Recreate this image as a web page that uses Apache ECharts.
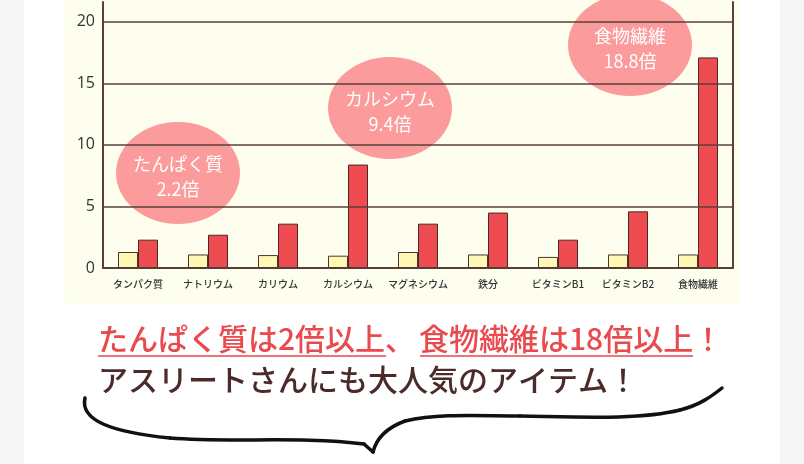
<!DOCTYPE html>
<html><head><meta charset="utf-8">
<script src="https://cdn.jsdelivr.net/npm/echarts@6/dist/echarts.min.js"></script>
<style>html,body{margin:0;padding:0;background:#f6f6f6}#c{width:804px;height:464px}</style>
</head><body><div id="c"></div>
<script>
const categories = ['タンパク質','ナトリウム','カリウム','カルシウム','マグネシウム','鉄分','ビタミンB1','ビタミンB2','食物繊維'];
const seriesBase = [1.3,1.1,1.05,1.0,1.3,1.1,0.9,1.1,1.1];
const seriesProduct = [2.3,2.7,3.6,8.4,3.6,4.5,2.3,4.6,17.1];
const yMin = 0, yMax = 20, yStep = 5;
const bubble1 = 'たんぱく質\n2.2倍';
const bubble2 = 'カルシウム\n9.4倍';
const bubble3 = '食物繊維\n18.8倍';
const head1a = 'たんぱく質は2倍以上';
const head1b = '、';
const head1c = '食物繊維は18倍以上';
const head1d = '！';
const head2 = 'アスリートさんにも大人気のアイテム！';

const FONT = '"Noto Sans CJK JP","Noto Sans",sans-serif';
const BROWN = '#5a3f37';
const chart = echarts.init(document.getElementById('c'), null, {renderer:'canvas'});

function bubble(cx, cy, txt){
  return [
    {type:'ellipse', z:-5, shape:{cx:cx, cy:cy, rx:62, ry:51}, style:{fill:'#fb9b9b'}},
    {type:'text', z:-4, x:cx, y:cy+4, style:{text:txt, fill:'#fff', font:'18px '+FONT, align:'center', verticalAlign:'middle', lineHeight:25}}
  ];
}
function curve(p){
  return {type:'bezierCurve', shape:{x1:p[0],y1:p[1],cpx1:p[2],cpy1:p[3],cpx2:p[4],cpy2:p[5],x2:p[6],y2:p[7]},
    style:{fill:'none', stroke:'#111', lineWidth:3.5, lineCap:'round'}};
}
function seg(a,b){
  return {type:'line', shape:{x1:a[0],y1:a[1],x2:b[0],y2:b[1]}, style:{stroke:'#111', lineWidth:3.5, lineCap:'round'}};
}
const headFont = '500 30px '+FONT;

const option = {
  backgroundColor:'#f6f6f6',
  animation:false,
  textStyle:{fontFamily:FONT},
  grid:[
    {left:103, right:71, top:21.7, bottom:196},
    {left:103, right:71, top:2, bottom:196}
  ],
  xAxis:[
    {type:'category', gridIndex:0, data:categories,
     axisLine:{lineStyle:{color:BROWN, width:2}}, axisTick:{show:false},
     axisLabel:{fontSize:10, color:'#333', fontWeight:500, margin:11, interval:0, fontFamily:FONT}},
    {type:'category', gridIndex:1, data:categories, show:false}
  ],
  yAxis:[
    {type:'value', gridIndex:0, min:yMin, max:yMax, interval:yStep, z:3,
     axisLine:{show:false}, axisTick:{show:false},
     splitLine:{lineStyle:{color:BROWN, width:1.5}},
     axisLabel:{fontSize:16, color:'#333', margin:8, fontFamily:'"Open Sans","Noto Sans",sans-serif'}},
    {type:'value', gridIndex:1, position:'left', min:0, max:1, z:3,
     axisLine:{show:true, lineStyle:{color:BROWN, width:2}}, axisTick:{show:false}, axisLabel:{show:false}, splitLine:{show:false}},
    {type:'value', gridIndex:1, position:'right', min:0, max:1, z:3,
     axisLine:{show:true, lineStyle:{color:BROWN, width:2}}, axisTick:{show:false}, axisLabel:{show:false}, splitLine:{show:false}}
  ],
  series:[
    {name:'一般', type:'bar', xAxisIndex:0, yAxisIndex:0, data:seriesBase, barWidth:20, barGap:'0%',
     itemStyle:{color:'#fff8b4', borderColor:'#4a3530', borderWidth:1}},
    {name:'本品', type:'bar', xAxisIndex:0, yAxisIndex:0, data:seriesProduct, barWidth:20, barGap:'0%',
     itemStyle:{color:'#ee4c50', borderColor:'#4a2a28', borderWidth:1}}
  ],
  graphic:[
    {type:'rect', z:-30, shape:{x:24, y:0, width:756, height:464}, style:{fill:'#ffffff'}},
    {type:'rect', z:-20, shape:{x:63, y:-12, width:678, height:317, r:10}, style:{fill:'#fefeef'}},
    ...bubble(178,173,bubble1),
    ...bubble(390,108,bubble2),
    ...bubble(630,45,bubble3),
    {type:'text', x:98, y:339, style:{text:head1a, fill:'#e94a4e', font:headFont, verticalAlign:'middle'}},
    {type:'text', x:385, y:339, style:{text:head1b, fill:'#e94a4e', font:headFont, verticalAlign:'middle'}},
    {type:'text', x:419, y:339, style:{text:head1c, fill:'#e94a4e', font:headFont, verticalAlign:'middle'}},
    {type:'text', x:693, y:339, style:{text:head1d, fill:'#e94a4e', font:headFont, verticalAlign:'middle'}},
    {type:'rect', shape:{x:98, y:355, width:288, height:2}, style:{fill:'#f07474'}},
    {type:'rect', shape:{x:420, y:355, width:273, height:2}, style:{fill:'#f07474'}},
    {type:'text', x:98, y:380, style:{text:head2, fill:'#4b2b2a', font:headFont, verticalAlign:'middle'}},
    curve([85,398, 80,420, 110,432, 170,438]),
    curve([170,438, 230,443, 300,436, 364,444]),
    seg([364,444],[373,452]),
    curve([373,452, 376,440, 386,428, 405,421]),
    curve([405,421, 440,413, 480,416, 520,416]),
    curve([520,416, 580,417, 640,420, 680,410]),
    curve([680,410, 700,405, 712,396, 722,388])
  ]
};
chart.setOption(option);
</script></body></html>
